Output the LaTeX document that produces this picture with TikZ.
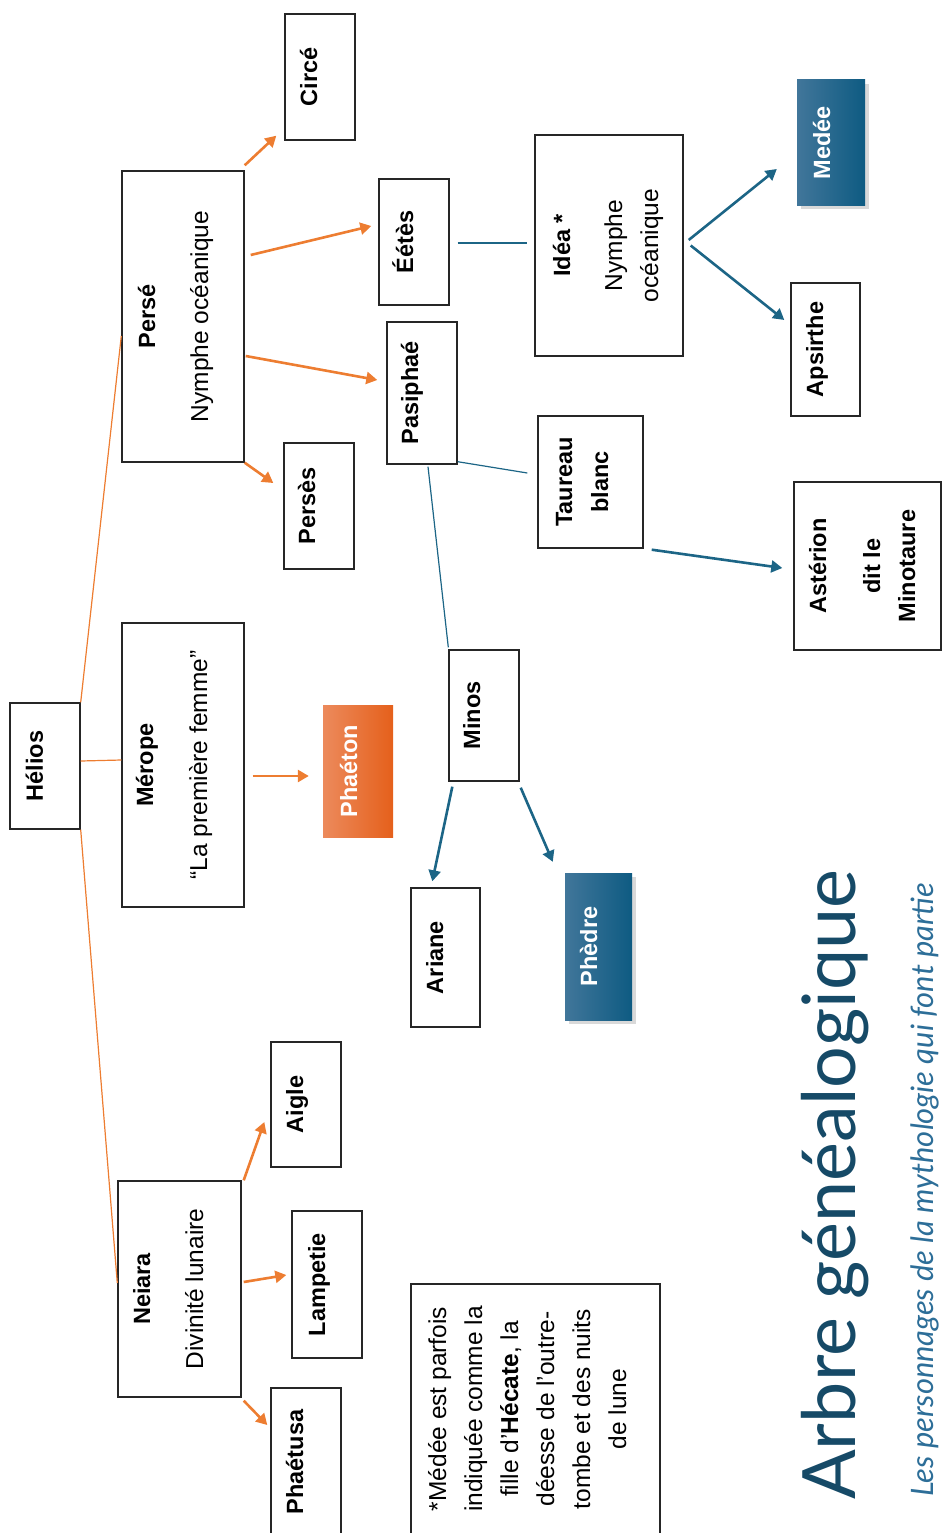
\documentclass[tikz,border=0pt]{standalone}
\usepackage{fontspec}
\setmainfont{Liberation Sans}
\newfontfamily\titlefont{Lato}
\usetikzlibrary{arrows.meta,shadows}
\definecolor{orangeline}{HTML}{ED7D31}
\definecolor{blueline}{HTML}{1C6586}
\definecolor{titleblue}{HTML}{164A67}
\definecolor{subblue}{HTML}{2D6E98}
\definecolor{boxline}{HTML}{262626}
\definecolor{medleft}{HTML}{41769A}
\definecolor{medright}{HTML}{0E5B82}
\definecolor{phleft}{HTML}{EC8A5C}
\definecolor{phright}{HTML}{E5601B}
\newcommand{\nm}{\fontsize{23.5}{28}\selectfont\bfseries}
\newcommand{\ds}{\fontsize{24.5}{28}\selectfont}
\newcommand{\vtxt}[3][30]{\rotatebox{90}{\raisebox{0pt}[\dimexpr#1pt+#2pt\relax][\dimexpr#1pt-#2pt\relax]{\begin{tabular}[t]{@{}c@{}}#3\end{tabular}}}}
\tikzset{
  pbox/.style={draw=boxline, line width=1.4pt, fill=white, inner sep=0pt, font=\fontsize{24}{28}\selectfont},
  bluebox/.style={inner sep=0pt, left color=medleft, right color=medright, text=white, font=\fontsize{24}{28}\selectfont,
    drop shadow={shadow xshift=4pt, shadow yshift=-4pt, opacity=.3}},
  orangebox/.style={inner sep=0pt, left color=phleft, right color=phright, text=white, font=\fontsize{24}{28}\selectfont},
  oline/.style={draw=orangeline, line width=1.2pt},
  oarrow/.style={draw=orangeline, line width=2.6pt, -{Triangle[length=11pt,width=12pt]}},
  bline/.style={draw=blueline, line width=1.2pt},
  barrow/.style={draw=blueline, line width=2.6pt, -{Triangle[length=11pt,width=12pt]}}
}
\begin{document}
\begin{tikzpicture}[x=1pt,y=-1pt]
\useasboundingbox (0,0) rectangle (942,1533);
\clip (0,0) rectangle (942,1533);
\node[pbox, minimum width=70, minimum height=126] (helios) at (45,766) {\vtxt{-2}{\nm Hélios}};
\node[pbox, minimum width=122, minimum height=291] (perse) at (183,316.5) {\vtxt{-28}{\nm Persé\\[25pt] \ds Nymphe océanique}};
\node[pbox, minimum width=122, minimum height=284] (merope) at (183,765) {\vtxt{-30}{\nm Mérope\\[26pt] \ds “La première femme”}};
\node[pbox, minimum width=123, minimum height=216] (neiara) at (179.5,1289) {\vtxt{-29.5}{\nm Neiara\\[25pt] \ds Divinité lunaire}};
\node[pbox, minimum width=70, minimum height=126] (circe) at (320,77) {\vtxt{-3}{\nm Circé}};
\node[pbox, minimum width=70, minimum height=126] (eetes) at (414,242) {\vtxt{-1}{\nm Éétès}};
\node[pbox, minimum width=70, minimum height=142] (pasiphae) at (422,393) {\vtxt{-4}{\nm Pasiphaé}};
\node[pbox, minimum width=70, minimum height=126] (perses) at (319,506) {\vtxt{-4}{\nm Persès}};
\node[orangebox, minimum width=70, minimum height=132] (phaeton) at (358,771) {\vtxt{-1}{\nm Phaéton}};
\node[pbox, minimum width=70, minimum height=125] (aigle) at (306,1104.5) {\vtxt{-3}{\nm Aigle}};
\node[pbox, minimum width=70, minimum height=147] (lampetie) at (327,1284.5) {\vtxt{-2}{\nm Lampetie}};
\node[pbox, minimum width=70, minimum height=148] (phaetusa) at (306,1462) {\vtxt{-3}{\nm Phaétusa}};
\node[pbox, minimum width=148, minimum height=221] (idea) at (609,245.5) {\vtxt[60]{-39}{\nm Idéa *\\[24pt] \ds Nymphe\\[8pt] \ds océanique}};
\node[pbox, minimum width=105, minimum height=132] (taureau) at (590.5,482) {\vtxt{-18.5}{\nm Taureau\\[8pt] \nm blanc}};
\node[pbox, minimum width=70, minimum height=131] (minos) at (484,715.5) {\vtxt{-4}{\nm Minos}};
\node[bluebox, minimum width=68, minimum height=125] (medee) at (831,142.5) {\vtxt{-1}{\nm Medée}};
\node[pbox, minimum width=69, minimum height=133] (apsirthe) at (825.5,349.5) {\vtxt{-2.5}{\nm Apsirthe}};
\node[pbox, minimum width=147, minimum height=168] (asterion) at (867.5,566) {\vtxt[60]{-41.5}{\nm Astérion\\[26pt] \nm dit le\\[7pt] \nm Minotaure}};
\node[pbox, minimum width=69, minimum height=139] (ariane) at (445.5,957.5) {\vtxt{-2.5}{\nm Ariane}};
\node[bluebox, minimum width=67, minimum height=147] (phedre) at (598.5,946.5) {\vtxt{-1.5}{\nm Phèdre}};
\node[pbox, minimum width=249, minimum height=250] (note) at (535.5,1409) {\vtxt[100]{-89.5}{\ds *Médée est parfois\\[8pt] \ds indiquée comme la\\[8pt] \ds fille d’\textbf{Hécate}, la\\[8pt] \ds déesse de l’outre-\\[8pt] \ds tombe et des nuits\\[8pt] \ds de lune}};
\node[rotate=90, anchor=base west, inner sep=0pt, text=titleblue] (title) at (855,1500) {\titlefont\fontsize{72}{80}\selectfont\resizebox{630pt}{!}{Arbre généalogique}};
\node[rotate=90, anchor=base west, inner sep=0pt, text=subblue] (subtitle) at (933,1497) {\titlefont\itshape\fontsize{26}{30}\selectfont\resizebox{614pt}{!}{Les personnages de la mythologie qui font partie}};
\draw[oline] (helios.north east) -- ([yshift=-19.5pt]perse.west);
\draw[oline] ([yshift=5pt]helios.east) -- ([yshift=5pt]merope.west);
\draw[oline] (helios.south east) -- ([yshift=6pt]neiara.west);
\draw[oarrow] ([yshift=5pt]perse.north east) -- ([xshift=-8pt,yshift=5pt]circe.south west);
\draw[oarrow] ([xshift=6pt,yshift=61.5pt]perse.east) -- ([xshift=-7pt,yshift=16pt]eetes.west);
\draw[oarrow] ([xshift=1pt,yshift=-39.5pt]perse.east) -- ([xshift=-9pt,yshift=13pt]pasiphae.west);
\draw[oarrow] (perse.south east) -- ([xshift=-10pt,yshift=23pt]perses.west);
\draw[oarrow] ([xshift=8pt,yshift=-11pt]merope.east) -- ([xshift=-14pt,yshift=-5pt]phaeton.west);
\draw[oarrow] ([xshift=2pt]neiara.north east) -- ([xshift=-6pt,yshift=-17.5pt]aigle.west);
\draw[oarrow] ([xshift=2pt,yshift=7pt]neiara.east) -- ([xshift=-5pt,yshift=9.5pt]lampetie.west);
\draw[oarrow] ([xshift=2pt,yshift=-3pt]neiara.south east) -- ([xshift=-3pt,yshift=37pt]phaetusa.west);
\draw[bline] ([xshift=8pt,yshift=-1pt]eetes.east) -- ([xshift=-7pt,yshift=2.5pt]idea.west);
\draw[bline] ([yshift=3pt]pasiphae.south east) -- ([xshift=-10pt,yshift=9pt]taureau.west);
\draw[bline] ([xshift=6pt,yshift=-2pt]pasiphae.south) -- ([yshift=2pt]minos.north west);
\draw[barrow] ([xshift=5pt,yshift=5.5pt]idea.east) -- ([xshift=-20pt,yshift=-26.5pt]medee.west);
\draw[barrow] ([xshift=7pt]idea.east) -- ([xshift=-6pt,yshift=29.5pt]apsirthe.west);
\draw[barrow] ([xshift=8pt,yshift=-1pt]taureau.south east) -- ([xshift=-11pt,yshift=-2pt]asterion.west);
\draw[barrow] ([xshift=4pt,yshift=-5pt]minos.south west) -- ([xshift=22pt,yshift=6pt]ariane.north west);
\draw[barrow] ([xshift=1pt,yshift=-6pt]minos.south east) -- ([xshift=-12pt,yshift=11pt]phedre.north west);
\end{tikzpicture}
\end{document}
